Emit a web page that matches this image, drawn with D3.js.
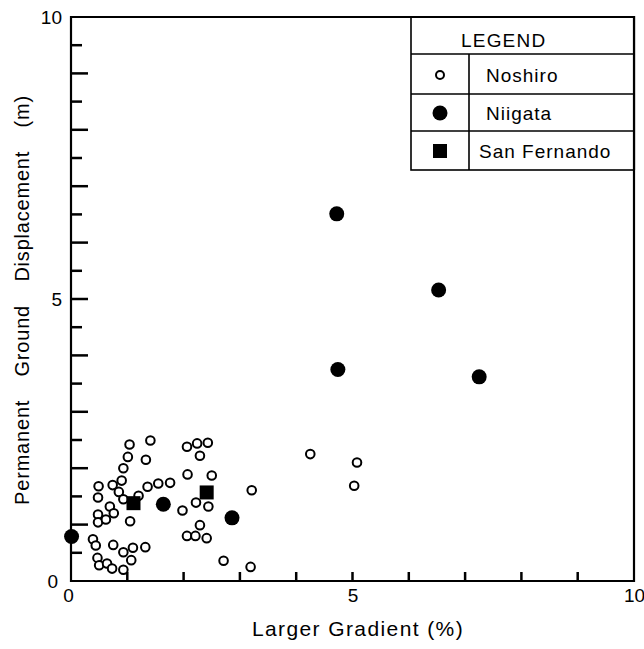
<!DOCTYPE html>
<html>
<head>
<meta charset="utf-8">
<script src="https://cdn.jsdelivr.net/npm/d3@7"></script>
<style>
  html, body { margin: 0; padding: 0; background: #fff; }
  svg text { font-family: "Liberation Sans", Arial, sans-serif; fill: #000; }
</style>
</head>
<body>
<svg id="chart" width="644" height="649"></svg>
<script>
// ---- Data ----
const noshiroX = [1.04,1.41,1.01,1.33,0.93,0.90,0.74,0.49,0.85,1.36,1.55,1.76,0.48,0.93,1.20,0.69,0.76,0.48,0.48,0.62,1.05,0.39,0.44,0.75,0.93,1.10,1.32,1.07,0.47,0.50,0.64,0.73,0.93,
                  2.06,2.24,2.43,2.29,2.07,2.50,3.21,2.22,2.44,1.98,2.29,2.06,2.21,2.41,2.71,3.19,4.25,5.08,5.03];
const noshiroY = [2.42,2.49,2.20,2.15,2.00,1.78,1.70,1.68,1.58,1.67,1.73,1.74,1.48,1.45,1.51,1.32,1.20,1.18,1.04,1.09,1.06,0.74,0.63,0.64,0.51,0.59,0.60,0.37,0.41,0.28,0.31,0.22,0.20,
                  2.38,2.44,2.45,2.22,1.89,1.87,1.61,1.39,1.32,1.25,0.99,0.80,0.80,0.76,0.36,0.25,2.25,2.10,1.69];
const niigataX = [0.01,1.64,2.86,4.72,6.53,4.74,7.25];
const niigataY = [0.79,1.36,1.12,6.51,5.16,3.75,3.62];
const sanFernandoX = [1.11,2.41];
const sanFernandoY = [1.38,1.57];
const xTickLabels = [0,5,10];
const yTickLabels = [0,5,10];
const xTickMarks = [1,2,3,4,5,6,7,8,9];
const yTickMarks = [0.5,1,1.5,2,2.5,3,3.5,4,4.5,5,5.5,6,6.5,7,7.5,8,8.5,9,9.5];
const legendLabels = ["Noshiro","Niigata","San Fernando"];
const xTitle = "Larger Gradient (%)";
const yTitle = "Permanent Ground Displacement (m)";

// ---- Layout ----
const svg = d3.select("#chart");
const x = d3.scaleLinear().domain([0,10]).range([71,634]);
const y = d3.scaleLinear().domain([0,10]).range([581,17]);

// frame
svg.append("path")
  .attr("d", `M${x(0)},${y(10)}H${x(10)}V${y(0)}H${x(0)}Z`)
  .attr("fill","none").attr("stroke","#000").attr("stroke-width",2.2);

// inward tick marks
const tickG = svg.append("g");
yTickMarks.forEach(v => {
  tickG.append("line")
    .attr("x1", x(0)).attr("x2", x(0) + (Number.isInteger(v) ? 17 : 11))
    .attr("y1", y(v)).attr("y2", y(v))
    .style("stroke", "#000").style("stroke-width", "2.5px");
});
xTickMarks.forEach(v => {
  tickG.append("line")
    .attr("x1", x(v)).attr("x2", x(v))
    .attr("y1", y(0)).attr("y2", y(0) - 9)
    .style("stroke", "#000").style("stroke-width", "2.5px");
});

// tick labels via d3 axes (no lines)
const yLab = svg.append("g").attr("transform",`translate(${x(0)},0)`)
  .call(d3.axisLeft(y).tickValues(yTickLabels).tickSize(0).tickPadding(9).tickFormat(d3.format("d")));
yLab.select(".domain").remove();
yLab.selectAll("text").style("font-size","19px").attr("font-family",null);
yLab.selectAll(".tick").filter(d=>d===0).select("text").attr("x",-13);

const xLab = svg.append("g").attr("transform",`translate(0,${y(0)})`)
  .call(d3.axisBottom(x).tickValues(xTickLabels).tickSize(0).tickPadding(8).tickFormat(d3.format("d")));
xLab.select(".domain").remove();
xLab.selectAll("text").style("font-size","19px").attr("font-family",null);
xLab.selectAll(".tick").filter(d=>d===0).select("text").attr("x",-3);

// Axis titles
svg.append("text").attr("x",358).attr("y",636).attr("text-anchor","middle")
  .style("font-size","21px").style("letter-spacing","1.4px").text(xTitle);
svg.append("text").attr("transform","translate(29,300) rotate(-90)").attr("text-anchor","middle")
  .style("font-size","20px").style("letter-spacing","0.8px").style("word-spacing","17px").text(yTitle);

// ---- Points ----
const noshiro = noshiroX.map((v,i)=>({x:v,y:noshiroY[i]}));
const niigata = niigataX.map((v,i)=>({x:v,y:niigataY[i]}));
const sanF = sanFernandoX.map((v,i)=>({x:v,y:sanFernandoY[i]}));

svg.append("g").selectAll("circle").data(noshiro).join("circle")
  .attr("cx",d=>x(d.x)).attr("cy",d=>y(d.y)).attr("r",4.3)
  .attr("fill","#fff").attr("stroke","#000").attr("stroke-width",2);
svg.append("g").selectAll("circle").data(niigata).join("circle")
  .attr("cx",d=>x(d.x)).attr("cy",d=>y(d.y)).attr("r",7.5).attr("fill","#000");
svg.append("g").selectAll("rect").data(sanF).join("rect")
  .attr("x",d=>x(d.x)-7).attr("y",d=>y(d.y)-7).attr("width",14).attr("height",14).attr("fill","#000");

// ---- Legend ----
const L = {x0:411, x1:634, xd:469, rows:[17,54,94,131,170]};
const lg = svg.append("g").attr("stroke","#000").attr("stroke-width",1.6).attr("fill","none");
lg.append("rect").attr("x",L.x0).attr("y",L.rows[0]).attr("width",L.x1-L.x0).attr("height",L.rows[4]-L.rows[0]).attr("fill","#fff");
[1,2,3].forEach(i=> lg.append("line").attr("x1",L.x0).attr("x2",L.x1).attr("y1",L.rows[i]).attr("y2",L.rows[i]));
lg.append("line").attr("x1",L.xd).attr("x2",L.xd).attr("y1",L.rows[1]).attr("y2",L.rows[4]);
svg.append("path").attr("d",`M${L.x0},${y(10)}H${x(10)}V${L.rows[4]}`).attr("fill","none").attr("stroke","#000").attr("stroke-width",2.2);

svg.append("text").attr("x",461).attr("y",47).style("font-size","19px").style("letter-spacing","1.2px").text("LEGEND");
const rowMid = [75,113,151];
const textX = [486,486,479];
legendLabels.forEach((t,i)=>{
  svg.append("text").attr("x",textX[i]).attr("y",rowMid[i]+7).style("font-size","19px").style("letter-spacing","1px").text(t);
});
const sx = (L.x0+L.xd)/2;
svg.append("circle").attr("cx",sx).attr("cy",rowMid[0]).attr("r",4).attr("fill","#fff").attr("stroke","#000").attr("stroke-width",2);
svg.append("circle").attr("cx",sx).attr("cy",rowMid[1]).attr("r",7.5).attr("fill","#000");
svg.append("rect").attr("x",sx-7).attr("y",rowMid[2]-7).attr("width",14).attr("height",14).attr("fill","#000");
</script>
</body>
</html>
